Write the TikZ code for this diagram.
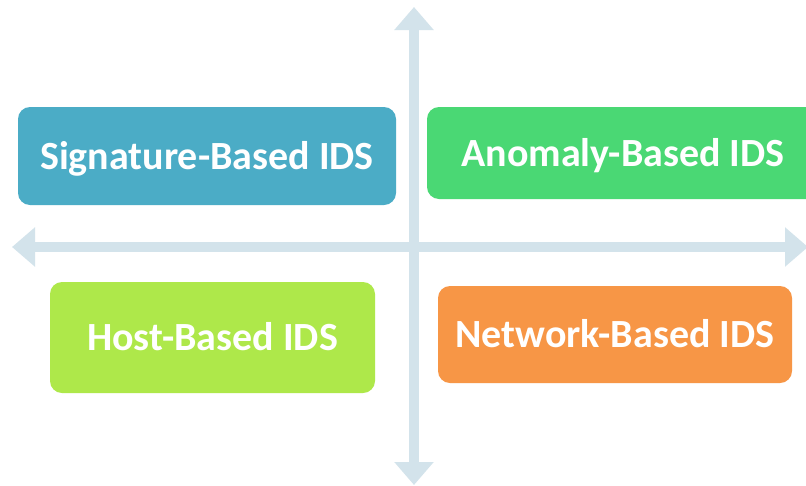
\documentclass[tikz,border=0pt]{standalone}
\usepackage{fontspec}
\setmainfont{Carlito}
\usetikzlibrary{arrows.meta}
\definecolor{axiscol}{HTML}{D3E3EB}
\definecolor{sigcol}{HTML}{4BACC6}
\definecolor{anocol}{HTML}{4AD874}
\definecolor{hostcol}{HTML}{AEE84A}
\definecolor{netcol}{HTML}{F79646}
\tikzset{
  axisline/.style={draw=axiscol, line width=10pt,
    {Triangle[length=23pt,width=38pt]}-{Triangle[length=23pt,width=38pt]}},
  idsbox/.style={rounded corners=12pt, text=white, inner sep=0pt,
    font=\bfseries\fontsize{40}{44}\selectfont, text height=26pt, text depth=0pt, align=center}
}
\begin{document}
\begin{tikzpicture}[x=1pt,y=-1pt]
\useasboundingbox (0,0) rectangle (806,485);
\clip (0,0) rectangle (806,485);
\fill[white] (0,0) rectangle (806,485);
\coordinate (vtop) at (414,7);
\coordinate (vbot) at (414,485);
\coordinate (hleft) at (12,247);
\coordinate (hright) at (808,247);
\draw[axisline] (vbot) -- (vtop);
\draw[axisline] (hleft) -- (hright);
\node[idsbox, fill=sigcol, minimum width=378pt, minimum height=98pt] (sig) at (207,156) {Signature-Based IDS};
\node[idsbox, fill=anocol, minimum width=392pt, minimum height=92pt] (ano) at (623,153) {Anomaly-Based IDS};
\node[idsbox, fill=hostcol, minimum width=325pt, minimum height=111pt] (host) at (212.5,337.5) {Host-Based IDS};
\node[idsbox, fill=netcol, minimum width=354pt, minimum height=97pt] (net) at (615,334.5) {Network-Based IDS};
\end{tikzpicture}
\end{document}
